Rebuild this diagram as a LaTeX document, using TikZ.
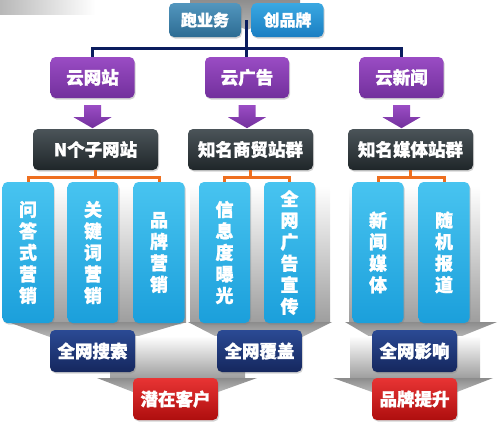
\documentclass[tikz,border=0pt]{standalone}
\usepackage{fontspec}
\newfontfamily\cjk{Noto Sans CJK SC}[BoldFeatures={FakeBold=1.3}]
\usetikzlibrary{shadows,calc}
\definecolor{navyline}{HTML}{0B1D5E}
\definecolor{orangeline}{HTML}{EE6F1F}
\definecolor{purpA}{HTML}{9A4CC4}
\definecolor{purpB}{HTML}{72309C}
\definecolor{darkA}{HTML}{4B5459}
\definecolor{darkB}{HTML}{1F2629}
\definecolor{blueA}{HTML}{48C4F0}
\definecolor{blueB}{HTML}{1B9FDB}
\definecolor{navyA}{HTML}{2B4A94}
\definecolor{navyB}{HTML}{15275E}
\definecolor{redA}{HTML}{E83434}
\definecolor{redB}{HTML}{AE0E0E}
\definecolor{paoA}{HTML}{5296BE}
\definecolor{paoB}{HTML}{2D6C93}
\definecolor{chA}{HTML}{3AA8E2}
\definecolor{chB}{HTML}{1A7EC2}
\tikzset{
  base/.style={rounded corners=5pt, inner sep=0pt, text=white, align=center,
    font=\cjk\bfseries\fontsize{17.5}{17.5}\selectfont,
    drop shadow={opacity=0.35, shadow xshift=1pt, shadow yshift=-1.5pt}},
  topbox/.style={base, minimum width=72pt, minimum height=34pt,
    font=\cjk\bfseries\fontsize{16}{16}\selectfont},
  purpbox/.style={base, top color=purpA, bottom color=purpB, minimum width=84pt, minimum height=41pt},
  darkbox/.style={base, top color=darkA, bottom color=darkB, minimum width=125pt, minimum height=41pt},
  bluebox/.style={base, top color=blueA, bottom color=blueB, minimum width=51pt, minimum height=141pt,
    font=\cjk\bfseries\fontsize{18}{21.5}\selectfont},
  navybox/.style={base, top color=navyA, bottom color=navyB, minimum width=85pt, minimum height=42pt},
  redbox/.style={base, top color=redA, bottom color=redB, minimum width=85pt, minimum height=42pt},
  navyconn/.style={draw=navyline, line width=3pt},
  orangeconn/.style={draw=orangeline, line width=3pt},
  shaftshade/.style={top color=white, bottom color=black!38},
  headshade/.style={top color=black!45, bottom color=black!28},
}
\begin{document}
\begin{tikzpicture}[x=1pt,y=-1pt]
\useasboundingbox (0,0) rectangle (500,426);
% background gray shapes
\shade[left color=black!28, right color=white] (0,0) rectangle (95,14);
\shade[headshade] (190,-1) -- (300,-1) -- (300,6) -- (247,30) -- (190,6) -- cycle;
% level-1 block arrows
\shade[shaftshade] (6,186) rectangle (186,322);
\shade[headshade] (8,322) -- (186,322) -- (135,337) -- (50,337) -- cycle;
\shade[shaftshade] (190,186) rectangle (330,322);
\shade[headshade] (188,322) -- (332,322) -- (302,337) -- (217,337) -- cycle;
\shade[shaftshade] (349,186) rectangle (480,322);
\shade[headshade] (345,322) -- (497,322) -- (457,338) -- (372,338) -- cycle;
% level-2 block arrows
\shade[shaftshade] (110,336) rectangle (245,378);
\shade[headshade] (97,378) -- (257,378) -- (218,392) -- (133,392) -- cycle;
\shade[shaftshade] (350,336) rectangle (480,378);
\shade[headshade] (333,378) -- (493,378) -- (457,392) -- (372,392) -- cycle;

% top boxes
\node[topbox, top color=paoA, bottom color=paoB] (pao) at (205,20) {跑业务};
\node[topbox, top color=chA, bottom color=chB] (chuang) at (287.5,20) {创品牌};

% purple boxes
\node[purpbox] (yws) at (92.5,77.5) {云网站};
\node[purpbox] (ygg) at (247,77.5) {云广告};
\node[purpbox] (yxw) at (401.5,77.5) {云新闻};

% navy connectors
\coordinate (tp) at ($(pao.east)!0.5!(chuang.west)$);
\draw[navyconn] (tp) -- (tp |- ygg.north);
\draw[navyconn] (yws.north) -- ++(0,-8) -| (yxw.north);

% purple arrows
\foreach \n in {yws,ygg,yxw}{
  \shade[top color=purpA, bottom color=purpB]
    ($(\n.south)+(-8.5,7)$) -- ++(17,0) -- ++(0,12) -- ++(10.5,0)
    -- ($(\n.south)+(0,30)$) -- ($(\n.south)+(-19,19)$) -- ($(\n.south)+(-8.5,19)$) -- cycle;
}

% dark boxes
\node[darkbox] (d1) at (95.5,149.5) {N个子网站};
\node[darkbox] (d2) at (250.5,149.5) {知名商贸站群};
\node[darkbox] (d3) at (410.5,149.5) {知名媒体站群};

% blue boxes
\node[bluebox] (b1) at (28,252.5) {问\\答\\式\\营\\销};
\node[bluebox] (b2) at (93,252.5) {关\\键\\词\\营\\销};
\node[bluebox] (b3) at (159,252.5) {品\\牌\\营\\销};
\node[bluebox] (b4) at (224.5,252.5) {信\\息\\度\\曝\\光};
\node[bluebox] (b5) at (289.5,252.5) {全\\网\\广\\告\\宣\\传};
\node[bluebox] (b6) at (378,252.5) {新\\闻\\媒\\体};
\node[bluebox] (b7) at (444,252.5) {随\\机\\报\\道};

% orange connectors
\draw[orangeconn] (d1.south) -- ++(0,7) -| (b1.north);
\draw[orangeconn] (d1.south) ++(0,7) -| (b3.north);
\draw[orangeconn] (d2.south) -- ++(0,7) -| (b4.north);
\draw[orangeconn] (d2.south) ++(0,7) -| (b5.north);
\draw[orangeconn] (d3.south) -- ++(0,7) -| (b6.north);
\draw[orangeconn] (d3.south) ++(0,7) -| (b7.north);

% navy result boxes
\node[navybox] (n1) at (92.5,351) {全网搜索};
\node[navybox] (n2) at (259.5,351) {全网覆盖};
\node[navybox] (n3) at (414.5,351) {全网影响};

% red boxes
\node[redbox] (r1) at (175.5,399) {潜在客户};
\node[redbox] (r2) at (414.5,399) {品牌提升};
\end{tikzpicture}
\end{document}
